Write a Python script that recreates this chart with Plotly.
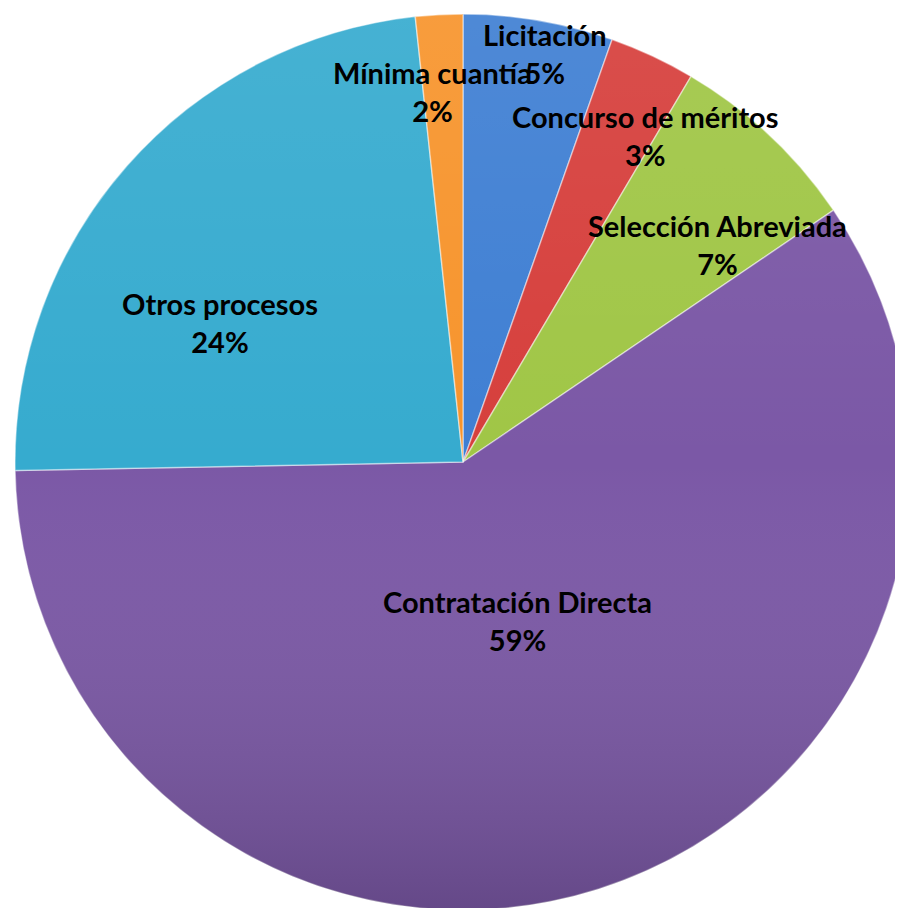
import math
import urllib.parse
import plotly.graph_objects as go

# Data
labels = ["Licitación", "Concurso de méritos", "Selección Abreviada",
          "Contratación Directa", "Otros procesos", "Mínima cuantía"]
values = [5.4, 3.1, 7.0, 59.2, 23.6, 1.7]
colors = ["#3f7fd3", "#d63f3c", "#a0c646", "#7b58a6", "#36abcf", "#f7942c"]

# label placement (fraction of radius, angle nudge in degrees)
label_r = [0.93, 0.835, 0.746, 0.373, 0.626, 0.829]
label_nudge = [1.6, 4.1, 6.3, -1.3, -11.5, -1.7]

W, H = 903, 908
# pie domain chosen so that the pie sits where the original one does
# (the page adds an 8px body margin around the plot div)
dom_x = [7 / W, 1.0]
dom_y = [6 / H, 1 - 6 / H]

fig = go.Figure(go.Pie(
    labels=labels,
    values=values,
    sort=False,
    direction="clockwise",
    rotation=0,
    marker=dict(colors=colors, line=dict(color="rgba(255,255,255,0.45)", width=1.5)),
    textinfo="none",
    hoverinfo="label+percent",
    domain=dict(x=dom_x, y=dom_y),
    showlegend=False,
))

# pie geometry in pixels (same as plotly computes it from the domain)
px0, px1 = dom_x[0] * W, dom_x[1] * W
py0, py1 = (1 - dom_y[1]) * H, (1 - dom_y[0]) * H
R = min(px1 - px0, py1 - py0) / 2
cx, cy = (px0 + px1) / 2, (py0 + py1) / 2

# soft vertical shading like the original bevelled chart
grad_svg = (
    "<svg xmlns='http://www.w3.org/2000/svg' width='200' height='200'>"
    "<defs><linearGradient id='g' x1='0' y1='0' x2='0' y2='1'>"
    "<stop offset='0' stop-color='white' stop-opacity='0.08'/>"
    "<stop offset='0.5' stop-color='white' stop-opacity='0'/>"
    "<stop offset='1' stop-color='black' stop-opacity='0.18'/>"
    "</linearGradient></defs>"
    "<circle cx='100' cy='100' r='100' fill='url(#g)'/></svg>"
)
fig.add_layout_image(dict(
    source="data:image/svg+xml;charset=utf-8," + urllib.parse.quote(grad_svg),
    xref="paper", yref="paper",
    x=(cx - R) / W, y=1 - (cy - R) / H,
    sizex=2 * R / W, sizey=2 * R / H,
    xanchor="left", yanchor="top",
    sizing="stretch", layer="above",
))

total = sum(values)
start = 0.0
for lab, v, rf, nd in zip(labels, values, label_r, label_nudge):
    pct = v / total
    mid = (start + pct / 2) * 360 + nd
    start += pct
    a = math.radians(mid)
    x = cx + rf * R * math.sin(a)
    y = cy - rf * R * math.cos(a)
    fig.add_annotation(
        x=x / W, y=1 - y / H, xref="paper", yref="paper",
        xanchor="center", yanchor="middle",
        text=f"<b>{lab}<br>{round(pct * 100):.0f}%</b>",
        showarrow=False, align="center",
        font=dict(family="Lato, Open Sans, sans-serif", size=29, color="black"),
    )

fig.update_layout(
    width=W, height=H,
    margin=dict(l=0, r=0, t=0, b=0),
    paper_bgcolor="white",
    plot_bgcolor="white",
)

fig.write_html("out.html")
